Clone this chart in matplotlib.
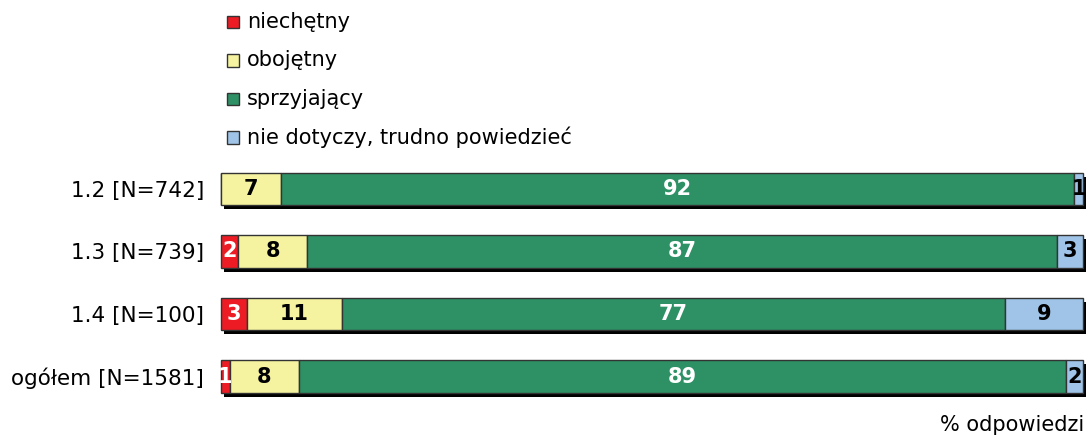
import matplotlib
matplotlib.use("Agg")
import matplotlib.pyplot as plt
import matplotlib.transforms as mtransforms
from matplotlib.patches import Rectangle
import numpy as np

plt.rcParams['font.family'] = ['DejaVu Sans']

rows = ["1.2 [N=742]", "1.3 [N=739]", "1.4 [N=100]", "ogółem [N=1581]"]
categories = ["niechętny", "obojętny", "sprzyjający", "nie dotyczy, trudno powiedzieć"]
niechetny = [0, 2, 3, 1]
obojetny = [7, 8, 11, 8]
sprzyjajacy = [92, 87, 77, 89]
nie_dotyczy = [1, 3, 9, 2]
series = [niechetny, obojetny, sprzyjajacy, nie_dotyczy]
colors = ["#ED1C24", "#F5F3A0", "#2E9166", "#A0C4E8"]
label_colors = ["white", "black", "white", "black"]
axis_label = "% odpowiedzi"

W, H = 1089, 436
fig = plt.figure(figsize=(W / 100, H / 100), dpi=100)
ax = fig.add_axes([221 / W, 1 - 408 / H, 862 / W, 250.5 / H])
ax.set_xlim(0, 100)
ax.set_ylim(3.5, -0.5)

bar_h = 0.52
y = np.arange(len(rows))
shadow_tr = ax.transData + mtransforms.ScaledTranslation(3 / 100, -4 / 100, fig.dpi_scale_trans)
left = np.zeros(len(rows))
for vals in series:
    v = np.array(vals, dtype=float)
    sh = ax.barh(y, v, left=left, height=bar_h, color="black", linewidth=0, zorder=1)
    for p in sh:
        p.set_transform(shadow_tr)
        p.set_clip_on(False)
    left += v

left = np.zeros(len(rows))
for vals, c, lc in zip(series, colors, label_colors):
    v = np.array(vals, dtype=float)
    bars = ax.barh(y, v, left=left, height=bar_h, color=c, edgecolor="#333333", linewidth=1.0, zorder=2)
    for p in bars:
        p.set_clip_on(False)
    for yi, (l, val) in enumerate(zip(left, v)):
        if val > 0:
            ax.text(l + val / 2, yi, f"{int(val)}", ha="center", va="center",
                    fontsize=15, fontweight="bold", color=lc, zorder=3, clip_on=False)
    left += v

ax.set_yticks(y)
ax.set_yticklabels(rows, fontsize=15.5)
ax.tick_params(axis="y", length=0, pad=12)
ax.set_xticks([])
for s in ax.spines.values():
    s.set_visible(False)

# legend
row_y = [22.5, 60.5, 99, 137.5]
for cat, c, ry in zip(categories, colors, row_y):
    fig.add_artist(Rectangle((227 / W, 1 - (ry + 6) / H), 12 / W, 12 / H,
                             transform=fig.transFigure, facecolor=c,
                             edgecolor="#333333", linewidth=1.0))
    fig.text(247 / W, 1 - ry / H, cat, ha="left", va="center", fontsize=15)

fig.text(940 / W, 1 - 425 / H, axis_label, ha="left", va="center", fontsize=15)

fig.savefig("out.png", dpi=100)
